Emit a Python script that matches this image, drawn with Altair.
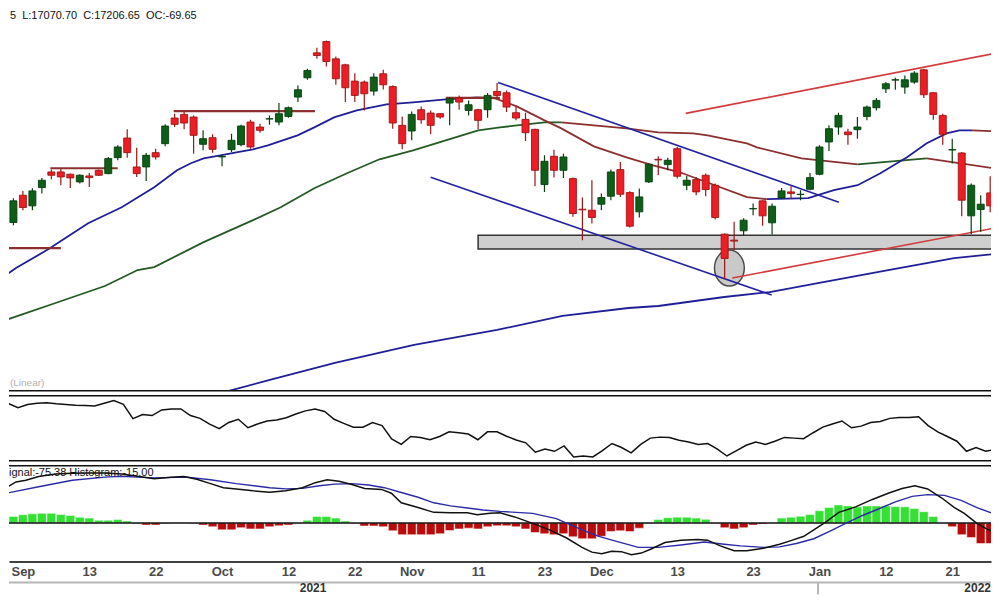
import json
import altair as alt
import pandas as pd

# ---------------- data ----------------
# day index 0 = 31 Aug 2021 (trading days only)
DAY = list(range(104))
OPEN = [16959, 17205, 17109, 17274, 17415, 17415, 17394, 17325, 17379, 17430,
        17400, 17544, 17721, 17460, 17460, 17589, 17670, 17901, 17934, 17910,
        17664, 17724, 17550, 17616, 17661, 17865, 17820, 17892, 17865, 17916,
        18090, 18264, 18489, 18591, 18435, 18381, 18234, 18225, 18144, 18300,
        18186, 17835, 17784, 17976, 17946, 17940, 18036, 18081, 17970, 17976,
        17976, 18141, 18129, 17949, 17889, 17799, 17301, 17556, 17430, 17355,
        17079, 17070, 17124, 17196, 17436, 17229, 17055, 17325, 17529, 17481,
        17625, 17295, 17346, 17385, 17295, 16854, 16800, 16884, 17082, 17154,
        16956, 17181, 17235, 17211, 17259, 17394, 17685, 17820, 17775, 17796,
        17916, 17994, 18165, 18243, 18180, 18225, 18336, 18129, 17925, 17613,
        17586, 17019, 17076, 17226]
HIGH = [17178, 17244, 17268, 17361, 17436, 17445, 17400, 17394, 17406, 17436,
        17550, 17655, 17799, 17634, 17586, 17625, 17844, 17940, 17955, 17925,
        17790, 17754, 17565, 17760, 17841, 17886, 17850, 17925, 18036, 18006,
        18195, 18345, 18534, 18600, 18456, 18390, 18306, 18240, 18306, 18336,
        18195, 17916, 17961, 18006, 17970, 17946, 18090, 18105, 18060, 17985,
        18126, 18216, 18150, 18006, 17949, 17805, 17565, 17616, 17580, 17364,
        17184, 17340, 17220, 17436, 17505, 17241, 17265, 17490, 17556, 17544,
        17640, 17379, 17370, 17400, 17310, 16860, 16965, 16998, 17130, 17160,
        17130, 17271, 17286, 17250, 17406, 17655, 17835, 17949, 17805, 17910,
        18015, 18081, 18225, 18264, 18285, 18324, 18345, 18135, 17940, 17715,
        17595, 17310, 17205, 17376]
LOW = [16935, 17070, 17070, 17220, 17349, 17295, 17271, 17310, 17280, 17379,
       17394, 17520, 17544, 17370, 17334, 17526, 17646, 17820, 17799, 17580,
       17610, 17589, 17466, 17595, 17646, 17625, 17769, 17841, 17835, 17904,
       18045, 18246, 18435, 18366, 18201, 18045, 18045, 17970, 18105, 18159,
       17805, 17619, 17700, 17850, 17754, 17895, 17835, 17976, 17925, 17799,
       17904, 18090, 17955, 17880, 17694, 17286, 17235, 17364, 17361, 17010,
       16800, 16950, 17070, 17160, 17190, 16914, 17004, 17316, 17385, 17430,
       17355, 17250, 17205, 17196, 16986, 16449, 16710, 16845, 17025, 16929,
       16851, 17175, 17175, 17160, 17250, 17385, 17604, 17751, 17661, 17715,
       17880, 17970, 18126, 18156, 18120, 18210, 18081, 17886, 17661, 17490,
       17016, 16854, 16875, 17052]
CLOSE = [17154, 17094, 17244, 17340, 17385, 17370, 17361, 17385, 17364, 17385,
         17535, 17640, 17589, 17400, 17565, 17550, 17829, 17844, 17856, 17745,
         17715, 17619, 17555, 17700, 17829, 17640, 17790, 17895, 17940, 17994,
         18156, 18330, 18465, 18411, 18255, 18174, 18105, 18120, 18270, 18201,
         17856, 17670, 17934, 17886, 17835, 17910, 18075, 18045, 18021, 17880,
         18105, 18105, 18000, 17901, 17769, 17430, 17511, 17430, 17550, 17040,
         17073, 17004, 17184, 17415, 17214, 16926, 17190, 17484, 17523, 17520,
         17376, 17340, 17235, 17256, 17004, 16635, 16791, 16980, 17085, 17019,
         17106, 17244, 17220, 17214, 17364, 17640, 17805, 17925, 17751, 17820,
         18000, 18060, 18210, 18246, 18246, 18306, 18111, 17934, 17754, 17616,
         17160, 17295, 17124, 17109]

# moving averages: (trend, day positions, values)
FAST_MA = [
    ("rising", [-0.77, 0.27, 3.71, 7.88, 11.42, 14.85, 17.25, 18.71, 20.06, 21.83, 23.5,
                25.27, 26.83, 29.96, 31.73, 33.81, 36.21, 39.35, 42.15, 45.58, 49.02],
     [16485, 16548, 16719, 16953, 17097, 17277, 17430, 17493, 17538, 17565, 17592,
      17619, 17655, 17745, 17817, 17907, 17970, 18024, 18042, 18069, 18087]),
    ("falling", [49.02, 50.79, 53.08, 56.0, 57.77, 61.21, 64.65, 67.46, 70.27, 73.4, 77.35, 79.44],
     [18087, 18078, 18006, 17880, 17808, 17646, 17547, 17475, 17412, 17313, 17187, 17169]),
    ("rising", [79.44, 83.81, 86.52, 89.02, 91.42, 94.23, 96.31, 98.4, 99.75, 101.1],
     [17169, 17178, 17250, 17295, 17403, 17547, 17673, 17763, 17790, 17790]),
    ("falling", [101.1, 103.4], [17790, 17781]),
]
MID_MA = [
    ("rising", [-0.77, 4.44, 9.65, 13.1, 14.85, 20.06, 25.27, 28.19, 31.73, 35.17, 38.6,
                42.15, 45.58, 49.02, 51.31, 56.0, 57.77],
     [16080, 16233, 16386, 16530, 16557, 16782, 16980, 17097, 17268, 17403, 17529,
      17610, 17700, 17790, 17817, 17862, 17862]),
    ("falling", [57.77, 64.65, 68.0, 71.67, 73.2, 77.35, 78.4, 83.1, 89.02],
     [17862, 17808, 17772, 17763, 17745, 17673, 17637, 17538, 17484]),
    ("rising", [89.02, 95.06, 96.31], [17484, 17529, 17538]),
    ("falling", [96.31, 103.4], [17538, 17448]),
]
SLOW_I = [20.06, 20.79, 27.04, 33.9, 42.25, 51.0, 57.9, 64.85, 68.0, 74.96, 79.75, 85.4, 92.25, 99.2, 103.4]
SLOW_V = [15378, 15396, 15540, 15693, 15855, 15990, 16116, 16188, 16206, 16287, 16332, 16422, 16530, 16638, 16674]

# drawn trend lines (day, price)
BLUE_LINES = {"down_top": [(51.1, 18222), (87.04, 17142)],
              "down_bottom": [(44.0, 17367), (79.96, 16305)]}
RED_LINES = {"up_top": [(70.9, 17943), (103.4, 18483)],
             "up_bottom": [(75.8, 16458), (103.4, 16908)]}
LEVELS = [(-1, 5.0, 16728), (3.9, 11.0, 17448), (16.9, 31.8, 17964), (45.6, 51.3, 18083)]
ZONE = (49.0, 104.0, 16719, 16845)
CIRCLE = (75.5, 16548)

# oscillator (day -1 .. 103)
OSC_DAY = list(range(-1, 104))
OSC = [74.9,
       77.2, 73.0, 76.2, 77.5, 78.1, 77.0, 76.2, 75.6, 75.3, 74.9,
       77.5, 80.3, 76.5, 62.1, 66.2, 65.2, 70.9, 71.8, 71.8, 65.2,
       62.4, 56.7, 52.0, 58.3, 61.5, 53.0, 56.7, 59.8, 60.8, 63.1,
       66.8, 69.9, 71.8, 69.3, 61.5, 57.4, 53.6, 53.6, 58.3, 55.1,
       41.7, 36.3, 44.2, 43.3, 41.0, 44.2, 48.9, 48.0, 46.7, 41.0,
       48.9, 48.9, 44.5, 40.7, 37.9, 28.5, 31.6, 29.4, 34.8, 23.8,
       24.7, 23.8, 30.1, 37.2, 33.2, 27.8, 36.3, 42.6, 43.6, 43.3,
       40.4, 38.8, 36.3, 37.2, 31.6, 24.7, 30.1, 35.4, 38.6, 36.3,
       39.5, 43.3, 42.6, 42.0, 48.0, 53.6, 56.7, 59.8, 53.0, 54.6,
       58.3, 59.3, 62.4, 63.3, 63.3, 64.0, 55.1, 48.9, 44.2, 39.5,
       29.4, 33.2, 29.4, 31.3]

# MACD histogram (day 0..103), MACD and signal lines
HIST = [27, 34, 38, 40, 40, 35, 31, 24, 20, 11,
        11, 14, 8, -2, -9, -9, -2, 2, 2, -2,
        -9, -16, -29, -29, -20, -25, -25, -16, -12, -9,
        -1, 11, 27, 27, 20, 8, -2, -13, -13, -16,
        -33, -49, -49, -49, -49, -45, -32, -25, -22, -25,
        -16, -12, -12, -16, -25, -40, -45, -49, -45, -58,
        -66, -66, -56, -36, -33, -36, -22, -2, 14, 22,
        24, 24, 20, 15, -1, -20, -25, -20, -9, -5,
        1, 20, 24, 28, 35, 51, 64, 75, 71, 67,
        71, 71, 71, 68, 67, 60, 47, 27, 0, -16,
        -49, -61, -86, -86]
MACD_I = [-0.77, 0.27, 1.31, 2.67, 4.44, 6.21, 7.88, 9.65, 11.42, 13.08,
          14.85, 16.6, 17.98, 19.33, 20.79, 22.15, 23.5, 25.27, 27.04, 28.71,
          30.48, 31.83, 33.08, 34.33, 35.69, 37.04, 38.81, 39.85, 40.9, 42.67,
          44.33, 46.1, 47.88, 48.9, 50.27, 51.31, 53.08, 54.75, 56.52, 58.29,
          59.96, 61.0, 62.04, 63.08, 64.1, 65.17, 66.21, 67.25, 68.71, 70.4,
          72.15, 73.19, 74.54, 76.0, 77.35, 79.1, 80.79, 81.83, 83.35, 84.4,
          85.69, 87.04, 88.81, 90.58, 92.25, 93.71, 95.06, 96.4, 97.9, 99.23,
          100.27, 101.6, 102.67, 103.4]
MACD_V = [147, 171, 178, 194, 204, 207, 208, 208, 204, 195,
          184, 191, 194, 182, 164, 147, 142, 134, 128, 134,
          147, 168, 180, 174, 160, 144, 140, 124, 84, 64,
          44, 42, 42, 34, 40, 42, 22, -2, -29, -62,
          -102, -122, -129, -118, -120, -133, -126, -109, -82, -72,
          -69, -72, -96, -116, -116, -106, -89, -76, -56, -29,
          4, 44, 67, 98, 124, 144, 155, 142, 104, 64,
          40, -2, -26, -36]
SIGNAL_I = [-0.77, 2.67, 6.21, 9.65, 11.42, 13.08, 14.85, 18.29, 20.79, 23.5,
            27.04, 28.71, 30.48, 32.25, 33.9, 35.69, 37.46, 39.12, 40.9, 42.67,
            44.33, 46.1, 47.88, 49.54, 51.31, 54.75, 57.25, 59.96, 61.73, 63.5,
            65.9, 67.98, 70.4, 72.85, 74.96, 76.67, 79.13, 80.79, 82.56, 84.4,
            86.0, 87.77, 89.54, 91.21, 93.0, 94.77, 96.4, 98.17, 99.94, 101.6, 103.4]
SIGNAL_V = [124, 151, 178, 191, 195, 191, 188, 191, 180, 164,
            147, 142, 144, 155, 162, 164, 158, 147, 127, 107,
            84, 71, 62, 54, 48, 40, 18, -29, -56, -76,
            -102, -102, -92, -80, -89, -96, -102, -100, -86, -66,
            -36, -2, 31, 58, 88, 111, 118, 115, 94, 64, 38]

TICK_DAY = [1, 8, 15, 22, 29, 36, 42, 49, 56, 62, 70, 78, 85, 92, 99]
TICK_LABEL = ["Sep", "13", "22", "Oct", "12", "22", "Nov", "11", "23", "Dec",
              "13", "23", "Jan", "12", "21"]
YEARS = [(31.8, "2021")]
YEAR_SPLIT = 84.5
HEADER = "5\u00a0\u00a0L:17070.70\u00a0\u00a0C:17206.65\u00a0\u00a0OC:-69.65"
MACD_TEXT = "ignal:-75.38 Histogram:-15.00"
SCALE_TEXT = "(Linear)"

# ---------------- layout / styles ----------------
W = 984
H_PRICE, H_OSC, H_MACD, H_YEAR = 383, 65, 96, 12
FONT = "Liberation Sans"
XS = alt.Scale(domain=[0.06, 102.56], nice=False, zero=False)
YP = alt.Scale(domain=[15441, 18888], nice=False, zero=False)
YO = alt.Scale(domain=[20, 85], nice=False, zero=False)
YM = alt.Scale(domain=[-161, 239], nice=False, zero=False)

BLUE = "#1f1f98"
BROWN = "#8c2f2f"
MGREEN = "#245a24"
RED_T = "#d23c3c"
UP_FILL, UP_EDGE = "#0e5e1a", "#06400c"
DN_FILL, DN_EDGE = "#ee1c24", "#9c1515"


def X(field="i", axis=None):
    return alt.X(f"{field}:Q", scale=XS, axis=axis)


def one():
    return alt.Chart(pd.DataFrame({"k": [0]}))


# ---------------- price panel ----------------
cdf = pd.DataFrame({"i": DAY, "o": OPEN, "h": HIGH, "l": LOW, "c": CLOSE})
cdf["dir"] = ["up" if c >= o else "down" for o, c in zip(OPEN, CLOSE)]

zone = alt.Chart(pd.DataFrame({"a": [ZONE[0]], "b": [ZONE[1]], "lo": [ZONE[2]], "hi": [ZONE[3]]})).mark_rect(
    fill="#cfcfcf", stroke="#333333", strokeWidth=1.5, clip=True
).encode(x=X("a"), x2="b:Q", y=alt.Y("lo:Q", scale=YP, axis=None), y2="hi:Q")

ELLIPSE = ("M 0.83 0 C 0.83 0.5523 0.4584 1 0 1 C -0.4584 1 -0.83 0.5523 -0.83 0 "
           "C -0.83 -0.5523 -0.4584 -1 0 -1 C 0.4584 -1 0.83 -0.5523 0.83 0 Z")
circle = alt.Chart(pd.DataFrame({"i": [CIRCLE[0]], "v": [CIRCLE[1]]})).mark_point(
    shape=ELLIPSE, size=1296, filled=True, fill="#c9c9c9", stroke="#4a4a4a",
    strokeWidth=1.5, opacity=1, clip=True
).encode(x=X(), y=alt.Y("v:Q", scale=YP, axis=None))


def ma_frame(segs, name):
    rows = []
    for k, (trend, ii, vv) in enumerate(segs):
        for a, b in zip(ii, vv):
            rows.append({"i": a, "v": b, "seg": f"{name}{k}", "trend": trend})
    return pd.DataFrame(rows)


def ma_layer(df, trend, color, width=1.8):
    return alt.Chart(df).transform_filter(f"datum.trend == '{trend}'").mark_line(
        color=color, strokeWidth=width, clip=True
    ).encode(x=X(), y=alt.Y("v:Q", scale=YP, axis=None), detail="seg:N", order="i:Q")


fast_df = ma_frame(FAST_MA, "f")
mid_df = ma_frame(MID_MA, "m")
slow = alt.Chart(pd.DataFrame({"i": SLOW_I, "v": SLOW_V})).mark_line(
    color=BLUE, strokeWidth=1.8, clip=True).encode(x=X(), y=alt.Y("v:Q", scale=YP, axis=None))


def tl_frame(d):
    rows = []
    for name, pts in d.items():
        for a, b in pts:
            rows.append({"i": a, "v": b, "name": name})
    return pd.DataFrame(rows)


blue_tl = alt.Chart(tl_frame(BLUE_LINES)).mark_line(color="#2323a0", strokeWidth=1.6, clip=True).encode(
    x=X(), y=alt.Y("v:Q", scale=YP, axis=None), detail="name:N")
red_tl = alt.Chart(tl_frame(RED_LINES)).mark_line(color=RED_T, strokeWidth=1.6, clip=True).encode(
    x=X(), y=alt.Y("v:Q", scale=YP, axis=None), detail="name:N")
levels = alt.Chart(pd.DataFrame({"a": [l[0] for l in LEVELS], "b": [l[1] for l in LEVELS],
                                 "v": [l[2] for l in LEVELS]})).mark_rule(
    color=BROWN, strokeWidth=2.2, clip=True).encode(x=X("a"), x2="b:Q", y=alt.Y("v:Q", scale=YP, axis=None))

wick_up = alt.Chart(cdf).transform_filter("datum.dir == 'up'").mark_rule(
    color=UP_EDGE, strokeWidth=1.2, clip=True).encode(x=X(), y=alt.Y("l:Q", scale=YP, axis=None), y2="h:Q")
wick_dn = alt.Chart(cdf).transform_filter("datum.dir == 'down'").mark_rule(
    color=DN_EDGE, strokeWidth=1.2, clip=True).encode(x=X(), y=alt.Y("l:Q", scale=YP, axis=None), y2="h:Q")
body_up = alt.Chart(cdf).transform_filter("datum.dir == 'up'").mark_bar(
    size=7, fill=UP_FILL, stroke=UP_EDGE, strokeWidth=0.9, clip=True
).encode(x=X(), y=alt.Y("o:Q", scale=YP, axis=None), y2="c:Q")
body_dn = alt.Chart(cdf).transform_filter("datum.dir == 'down'").mark_bar(
    size=7, fill=DN_FILL, stroke=DN_EDGE, strokeWidth=0.9, clip=True
).encode(x=X(), y=alt.Y("o:Q", scale=YP, axis=None), y2="c:Q")

header = alt.Chart(pd.DataFrame({"t": [HEADER]})).mark_text(
    align="left", baseline="alphabetic", font=FONT, fontSize=11, color="#111"
).encode(x=alt.value(1), y=alt.value(10), text="t:N")
linear = alt.Chart(pd.DataFrame({"t": [SCALE_TEXT]})).mark_text(
    align="left", baseline="alphabetic", font=FONT, fontSize=10, color="#b0b0b0"
).encode(x=alt.value(1), y=alt.value(378), text="t:N")
price_bottom = one().mark_rule(color="#111", strokeWidth=1.5).encode(
    x=alt.value(0), x2=alt.value(W), y=alt.value(H_PRICE))

price = alt.layer(
    zone, circle, slow,
    ma_layer(mid_df, "rising", MGREEN), ma_layer(mid_df, "falling", BROWN),
    ma_layer(fast_df, "rising", BLUE), ma_layer(fast_df, "falling", BROWN),
    levels, blue_tl, red_tl,
    wick_up, wick_dn, body_up, body_dn,
    header, linear, price_bottom,
).properties(width=W, height=H_PRICE)

# ---------------- oscillator panel ----------------
osc_line = alt.Chart(pd.DataFrame({"i": OSC_DAY, "v": OSC})).mark_line(
    color="#111", strokeWidth=1.5, clip=True).encode(x=X(), y=alt.Y("v:Q", scale=YO, axis=None))
osc_top = one().mark_rule(color="#111", strokeWidth=1.5).encode(x=alt.value(0), x2=alt.value(W), y=alt.value(0))
osc_bot = one().mark_rule(color="#111", strokeWidth=1.5).encode(x=alt.value(0), x2=alt.value(W), y=alt.value(H_OSC))
osc = alt.layer(osc_line, osc_top, osc_bot).properties(width=W, height=H_OSC)

# ---------------- MACD panel ----------------
label_expr = f"{json.dumps(TICK_LABEL)}[indexof({json.dumps(TICK_DAY)}, datum.value)]"
AX = alt.Axis(values=TICK_DAY, labelExpr=label_expr, title=None, grid=False, ticks=False,
              domain=True, domainColor="#000", domainWidth=1.5, labelFont=FONT,
              labelFontSize=13, labelFontWeight="bold", labelColor="#4a4a4a",
              labelPadding=4, labelOverlap=False)

hist = alt.Chart(pd.DataFrame({"i": DAY, "h": HIST})).mark_bar(
    size=8.8, stroke="#ffffff", strokeWidth=0.5, clip=True
).encode(
    x=X(axis=AX), y=alt.Y("h:Q", scale=YM, axis=None), y2=alt.datum(0),
    color=alt.condition("datum.h >= 0", alt.value("#35e035"), alt.value("#b80c0c")),
)
zero = alt.Chart(pd.DataFrame({"z": [0]})).mark_rule(color="#111", strokeWidth=1.5).encode(
    x=alt.value(0), x2=alt.value(W), y=alt.Y("z:Q", scale=YM, axis=None))
sig = alt.Chart(pd.DataFrame({"i": SIGNAL_I, "v": SIGNAL_V})).mark_line(
    color="#2b2ba8", strokeWidth=1.4, clip=True).encode(x=X(axis=AX), y=alt.Y("v:Q", scale=YM, axis=None))
macd_l = alt.Chart(pd.DataFrame({"i": MACD_I, "v": MACD_V})).mark_line(
    color="#111", strokeWidth=1.5, clip=True).encode(x=X(axis=AX), y=alt.Y("v:Q", scale=YM, axis=None))
macd_txt = alt.Chart(pd.DataFrame({"t": [MACD_TEXT]})).mark_text(
    align="left", baseline="alphabetic", font=FONT, fontSize=11, color="#111", clip=True
).encode(x=alt.value(0), y=alt.value(10), text="t:N")
macd_top = one().mark_rule(color="#111", strokeWidth=1.5).encode(x=alt.value(0), x2=alt.value(W), y=alt.value(0))

macd = alt.layer(hist, zero, sig, macd_l, macd_txt, macd_top).properties(width=W, height=H_MACD)

# ---------------- year row ----------------
yr_line = one().mark_rule(color="#b5b5b5", strokeWidth=2).encode(x=alt.value(0), x2=alt.value(W), y=alt.value(0))
yr_split = alt.Chart(pd.DataFrame({"i": [YEAR_SPLIT]})).mark_rule(color="#b5b5b5", strokeWidth=2).encode(
    x=X(), y=alt.value(0), y2=alt.value(H_YEAR))
yr_txt = alt.Chart(pd.DataFrame({"i": [y[0] for y in YEARS], "t": [y[1] for y in YEARS]})).mark_text(
    baseline="top", font=FONT, fontSize=12, fontWeight="bold", color="#333"
).encode(x=X(), y=alt.value(1), text="t:N")
yr_txt2 = alt.Chart(pd.DataFrame({"t": ["2022"]})).mark_text(
    align="right", baseline="top", font=FONT, fontSize=12, fontWeight="bold", color="#333"
).encode(x=alt.value(W), y=alt.value(1), text="t:N")
year = alt.layer(yr_line, yr_split, yr_txt, yr_txt2).properties(width=W, height=H_YEAR)

chart = alt.vconcat(price, osc, macd, year, spacing=3).properties(
    padding=0, background="white"
).configure_view(strokeWidth=0)

chart.save("out.html", embed_options={"renderer": "svg", "actions": False})
